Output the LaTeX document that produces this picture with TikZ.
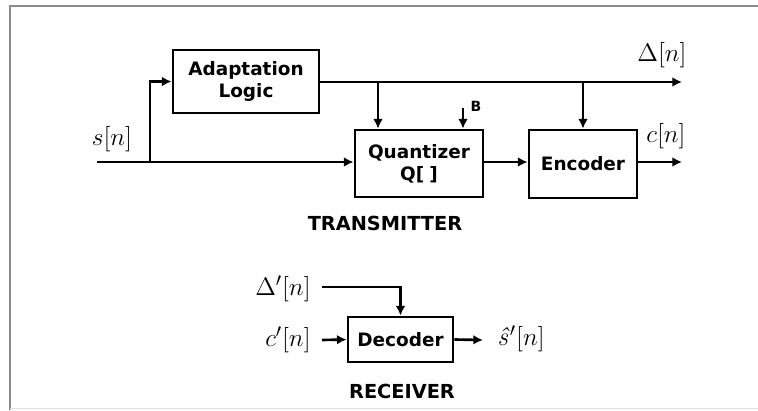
\documentclass[tikz,border=0pt]{standalone}
\usepackage{fontspec}
\setsansfont{DejaVu Sans}
\usetikzlibrary{arrows.meta}

\tikzset{
  blk/.style={draw, line width=1.6pt, align=center, inner sep=0pt,
    font=\sffamily\bfseries\fontsize{10.5}{12.5}\selectfont},
  sig/.style={line width=1.5pt},
  sigarr/.style={sig, -{Latex[length=5.5pt,width=5.5pt]}},
  ttl/.style={font=\sffamily\bfseries\fontsize{11}{13}\selectfont},
  lbl/.style={font=\fontsize{15}{17}\selectfont, inner sep=0pt}
}

\begin{document}
\begin{tikzpicture}[x=0.02cm, y=-0.02cm]
			%%%%% START %%%%%
			\useasboundingbox (0,0) rectangle (758,410);
			
			\draw[line width=1.2pt, color=black!45] (9,6) -- (758,6);
			\draw[line width=1.2pt, color=black!45] (10,6) -- (10,410);
			\draw[line width=0.4pt, color=black!12] (10,408) -- (758,408);
			
			% transmitter
			\node[blk, minimum width=2.92cm, minimum height=1.26cm] (adapt) at (246,81.5) {Adaptation\\Logic};
			\node[blk, minimum width=2.56cm, minimum height=1.34cm] (quant) at (419,163.5) {Quantizer\\Q[\;]};
			\node[blk, minimum width=2.16cm, minimum height=1.36cm] (enc) at (583,164) {Encoder};
			
			\coordinate (sin) at (97,162);
			\coordinate (split) at (150,162);
			\coordinate (tapq) at (378,82);
			\coordinate (tape) at (583,82);
			\coordinate (dout) at (682,82);
			\coordinate (cout) at (682,162);
			\coordinate (bin) at (463,108);
			
			\draw[sigarr] (sin) -- (quant.west |- sin);
			\draw[sigarr] (split) |- (adapt.west);
			\draw[sigarr] (adapt.east |- dout) -- (dout);
			\draw[sigarr] (tapq) -- (tapq |- quant.north);
			\draw[sigarr] (tape) -- (enc.north);
			\draw[sigarr] (bin) -- (bin |- quant.north);
			\draw[sigarr] (quant.east |- cout) -- (enc.west |- cout);
			\draw[sigarr] (enc.east |- cout) -- (cout);
			
			\node[lbl] (sn) at (112,139) {$s\bigl[n\bigr]$};
			\node[lbl] (dn) at (662,55) {$\Delta\bigl[n\bigr]$};
			\node[lbl] (cn) at (666,136) {$c\bigl[n\bigr]$};
			\node[font=\sffamily\bfseries\fontsize{8}{9}\selectfont] (bl) at (476,106) {B};
			\node[ttl] (tx) at (385,223) {TRANSMITTER};
			
			% receiver
			\node[blk, minimum width=2.1cm, minimum height=0.9cm] (dec) at (400.5,339.5) {Decoder};
			
			\node[lbl, anchor=east] (dpn) at (311,289) {$\Delta'\bigl[n\bigr]$};
			\node[lbl, anchor=east] (cpn) at (311,340) {$c'\bigl[n\bigr]$};
			\node[lbl, anchor=west] (spn) at (497,339) {\textit{ŝ}$'\bigl[n\bigr]$};
			\node[ttl] (rx) at (402,391) {RECEIVER};
			
			\coordinate (dstart) at (322,287);
			\coordinate (cin) at (322,340);
			\coordinate (sout) at (483,340);
			\draw[sigarr] (dstart) -| (dec.north);
			\draw[sigarr] (cin) -- (dec.west);
			\draw[sigarr] (dec.east) -- (sout);
			%%%%% END %%%%%
\end{tikzpicture}
\end{document}
